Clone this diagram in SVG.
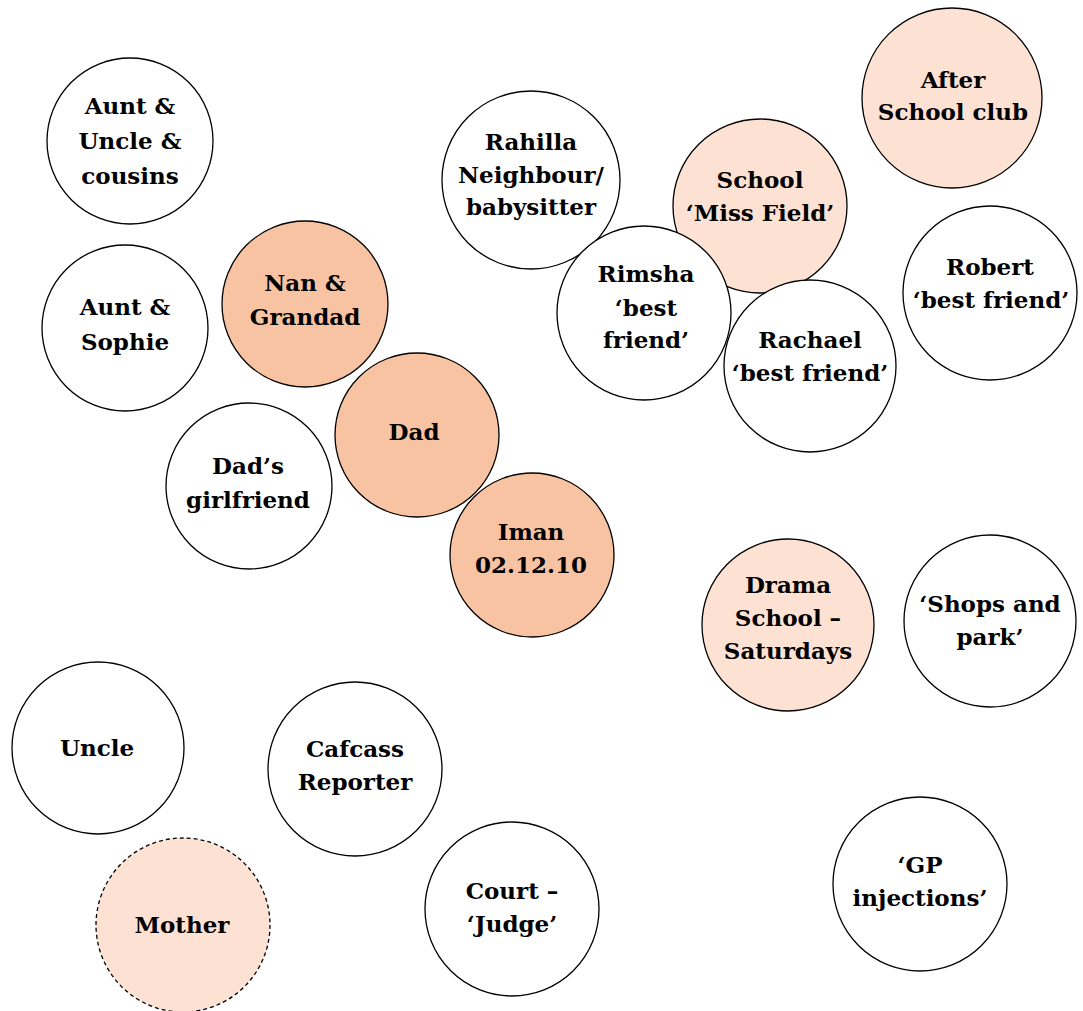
<svg xmlns="http://www.w3.org/2000/svg" width="1083" height="1011" viewBox="0 0 1083 1011">
  <style>
    .n { stroke: #000; stroke-width: 1.3; fill: #fff; }
    .dark { fill: #f8c3a3; }
    .light { fill: #fde2d4; }
    .dash { stroke-dasharray: 4 3; }
    text { font-family: "DejaVu Serif", "Liberation Serif", serif; font-weight: bold; font-size: 23px; text-anchor: middle; fill: #000; }
  </style>
  <rect width="1083" height="1011" fill="#fff"/>

  <g id="aunt-uncle-cousins">
    <circle class="n" cx="130" cy="141" r="83"/>
    <text x="130" y="114">Aunt &amp;</text>
    <text x="130" y="149">Uncle &amp;</text>
    <text x="130" y="184">cousins</text>
  </g>
  <g id="aunt-sophie">
    <circle class="n" cx="125" cy="328" r="83"/>
    <text x="125" y="315">Aunt &amp;</text>
    <text x="125" y="350">Sophie</text>
  </g>
  <g id="nan-grandad">
    <circle class="n dark" cx="305" cy="304" r="83"/>
    <text x="305" y="291">Nan &amp;</text>
    <text x="305" y="325">Grandad</text>
  </g>
  <g id="dads-girlfriend">
    <circle class="n" cx="249" cy="486" r="83"/>
    <text x="248" y="474">Dad’s</text>
    <text x="248" y="508">girlfriend</text>
  </g>
  <g id="dad">
    <circle class="n dark" cx="417" cy="435" r="82"/>
    <text x="414" y="440">Dad</text>
  </g>
  <g id="iman">
    <circle class="n dark" cx="532" cy="555" r="82"/>
    <text x="531" y="540">Iman</text>
    <text x="531" y="573">02.12.10</text>
  </g>

  <g id="rahilla">
    <circle class="n" cx="531" cy="180" r="89"/>
    <text x="531" y="150">Rahilla</text>
    <text x="531" y="183">Neighbour/</text>
    <text x="531" y="215">babysitter</text>
  </g>
  <g id="school">
    <circle class="n light" cx="760" cy="206" r="87"/>
    <text x="760" y="188">School</text>
    <text x="760" y="221">‘Miss Field’</text>
  </g>
  <g id="rimsha">
    <circle class="n" cx="644" cy="313" r="87"/>
    <text x="646" y="282">Rimsha</text>
    <text x="646" y="316">‘best</text>
    <text x="646" y="348">friend’</text>
  </g>
  <g id="rachael">
    <circle class="n" cx="810" cy="366" r="86"/>
    <text x="810" y="348">Rachael</text>
    <text x="810" y="381">‘best friend’</text>
  </g>
  <g id="after-school-club">
    <circle class="n light" cx="952" cy="98" r="90"/>
    <text x="953" y="88">After</text>
    <text x="953" y="120">School club</text>
  </g>
  <g id="robert">
    <circle class="n" cx="990" cy="293" r="87"/>
    <text x="990" y="275">Robert</text>
    <text x="991" y="308">‘best friend’</text>
  </g>

  <g id="drama-school">
    <circle class="n light" cx="788" cy="625" r="86"/>
    <text x="788" y="593">Drama</text>
    <text x="788" y="626">School –</text>
    <text x="788" y="659">Saturdays</text>
  </g>
  <g id="shops-park">
    <circle class="n" cx="990" cy="621" r="86"/>
    <text x="990" y="612">‘Shops and</text>
    <text x="990" y="645">park’</text>
  </g>

  <g id="uncle">
    <circle class="n" cx="98" cy="748" r="86"/>
    <text x="97" y="756">Uncle</text>
  </g>
  <g id="cafcass">
    <circle class="n" cx="355" cy="769" r="87"/>
    <text x="355" y="757">Cafcass</text>
    <text x="355" y="790">Reporter</text>
  </g>
  <g id="court">
    <circle class="n" cx="512" cy="909" r="87"/>
    <text x="512" y="899">Court –</text>
    <text x="512" y="932">‘Judge’</text>
  </g>
  <g id="gp">
    <circle class="n" cx="920" cy="884" r="87"/>
    <text x="920" y="873">‘GP</text>
    <text x="920" y="906">injections’</text>
  </g>
  <g id="mother">
    <circle class="n light dash" cx="183" cy="925" r="87"/>
    <text x="182" y="933">Mother</text>
  </g>

  <g id="connectors"></g>
</svg>
